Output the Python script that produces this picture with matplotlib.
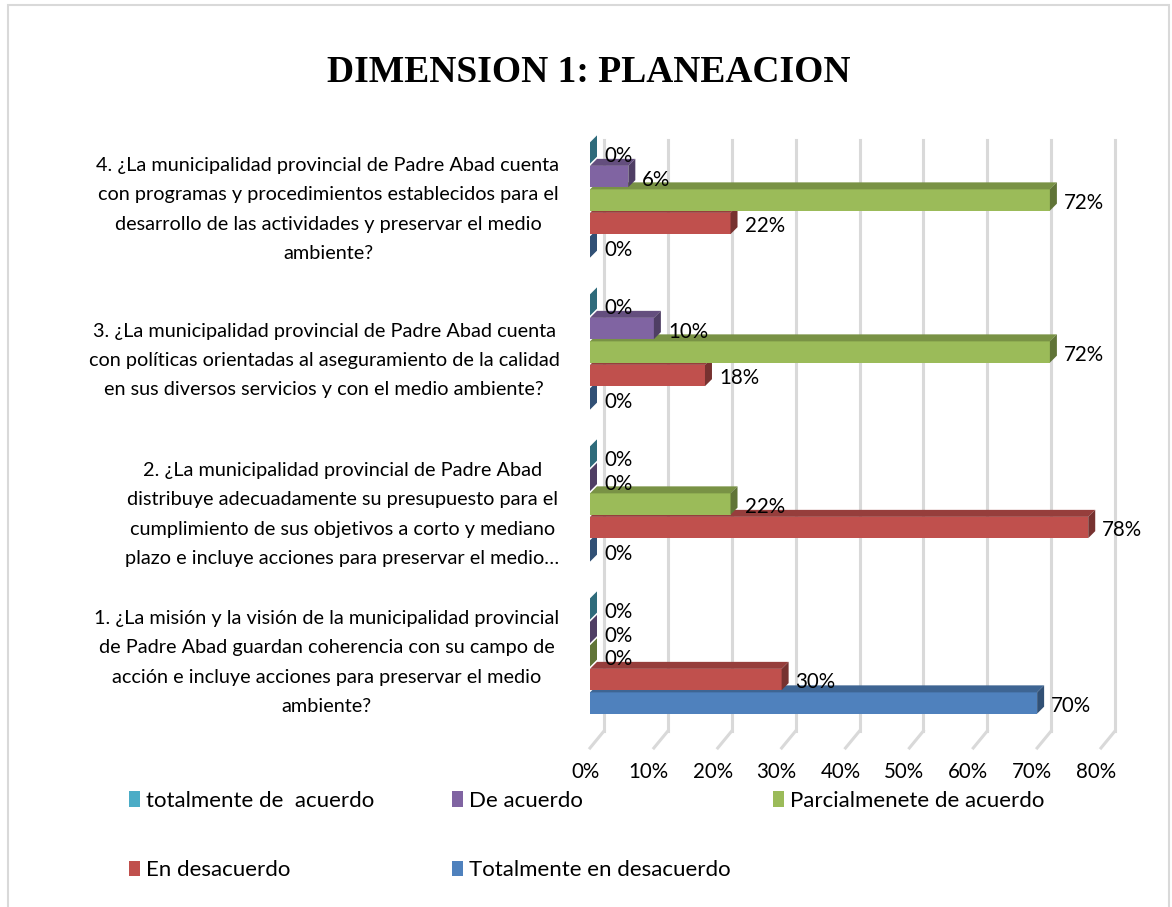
import numpy as np
import matplotlib.pyplot as plt
from matplotlib.patches import Polygon, Rectangle
from matplotlib.colors import to_rgb
from matplotlib import transforms

# --------- data (bottom group first) --------

preguntas = [
    '1. ¿La misión y la visión de la municipalidad provincial\n'
    'de Padre Abad guardan coherencia con su campo de\n'
    'acción e incluye acciones para preservar el medio\n'
    'ambiente?',
    '2. ¿La municipalidad provincial de Padre Abad\n'
    'distribuye adecuadamente su presupuesto para el\n'
    'cumplimiento de sus objetivos a corto y mediano\n'
    'plazo e incluye acciones para preservar el medio…',
    '3. ¿La municipalidad provincial de Padre Abad cuenta\n'
    'con políticas orientadas al aseguramiento de la calidad\n'
    'en sus diversos servicios y con el medio ambiente?',
    '4. ¿La municipalidad provincial de Padre Abad cuenta\n'
    'con programas y procedimientos establecidos para el\n'
    'desarrollo de las actividades y preservar el medio\n'
    'ambiente?',
]

series = ['totalmente de  acuerdo', 'De acuerdo', 'Parcialmenete de acuerdo',
          'En desacuerdo', 'Totalmente en desacuerdo']

tot_acuerdo = [0, 0, 0, 0]
de_acuerdo = [0, 0, 10, 6]
parcial = [0, 22, 72, 72]
desacuerdo = [30, 78, 18, 22]
tot_desacuerdo = [70, 0, 0, 0]

valores = [tot_acuerdo, de_acuerdo, parcial, desacuerdo, tot_desacuerdo]
colores = ['#4BACC6', '#8064A2', '#9BBB59', '#C0504D', '#4F81BD']

xticks = np.arange(0, 81, 10)

# --------- plot params --------

W, H = 1172, 907
fs = 14.3
fs_num = 14.8
fs_leg = 16
plt.rcParams['font.family'] = ['Lato', 'DejaVu Sans']

fig = plt.figure(figsize=(W / 100, H / 100), dpi=100)

# outer frame
fig.patches.append(Rectangle((8 / W, -0.01), 1161 / W, 1 - 5 / H + 0.01,
                             transform=fig.transFigure, fill=False,
                             edgecolor='#D9D9D9', lw=1.5))

ax_l, ax_r, ax_t, ax_b = 590, 1101, 157, 748
ax = fig.add_axes([ax_l / W, 1 - ax_b / H, (ax_r - ax_l) / W, (ax_b - ax_t) / H])

pitch = 0.1546
bh = 0.14
ylo = -(ax_b - 656) / 152
yhi = 3 + (200 - ax_t) / 152
ax.set_xlim(0, 80)
ax.set_ylim(ylo, yhi)

# pixel -> data for the bar depth
px_x = (ax_r - ax_l) / 80.0
px_y = (ax_b - ax_t) / (yhi - ylo)
depth = 7
ddx = depth / px_x
ddy = depth / px_y

# back wall gridlines + floor lines
back = transforms.ScaledTranslation(14 / 100, 17 / 100, fig.dpi_scale_trans)
for k in xticks:
    ax.plot([k, k], [0, 1], transform=ax.get_xaxis_transform() + back,
            color='#D9D9D9', lw=2.2, zorder=1, clip_on=False)
    ax.plot([k, k + 14 / px_x], [ylo, ylo + 17 / px_y], color='#D9D9D9',
            lw=2.2, zorder=1, clip_on=False)


def darker(c, f):
    return tuple(np.array(to_rgb(c)) * f)


lab_tr = transforms.offset_copy(ax.transData, fig=fig, x=14, y=-3, units='dots')

for j in range(len(preguntas)):
    for i in range(len(series)):
        v = valores[i][j]
        yc = j + (2 - i) * pitch
        yb, yt = yc - bh / 2, yc + bh / 2
        z = 10 + j * 10 + (5 - i)
        col = colores[i]
        ax.add_patch(Rectangle((0, yb), v, bh, facecolor=col, edgecolor='none',
                               zorder=z, clip_on=False))
        ax.add_patch(Polygon([(0, yt), (v, yt), (v + ddx, yt + ddy), (ddx, yt + ddy)],
                             facecolor=darker(col, 0.78), edgecolor='none',
                             zorder=z, clip_on=False))
        ax.add_patch(Polygon([(v, yb), (v, yt), (v + ddx, yt + ddy), (v + ddx, yb + ddy)],
                             facecolor=darker(col, 0.62), edgecolor='none',
                             zorder=z, clip_on=False))
        ax.text(v, yc, f'{v}%', transform=lab_tr, ha='left', va='center',
                fontsize=fs_num, zorder=100)

for s in ax.spines.values():
    s.set_visible(False)

ax.set_xticks(xticks, [f'{k}%' for k in xticks])
ax.tick_params(axis='x', length=0, pad=10, labelsize=fs_num)
shift = transforms.ScaledTranslation(-5 / 100, 0, fig.dpi_scale_trans)
for lbl in ax.get_xticklabels():
    lbl.set_transform(lbl.get_transform() + shift)

ax.set_yticks(range(len(preguntas)))
ax.set_yticklabels(preguntas, multialignment='center', linespacing=1.87)
ax.tick_params(axis='y', length=0, pad=22, labelsize=fs)
for lbl, dy in zip(ax.get_yticklabels(), [1, -3, -1, -2]):
    lbl.set_transform(lbl.get_transform() +
                      transforms.ScaledTranslation(0, dy / 100, fig.dpi_scale_trans))

fig.text(589 / W, 1 - 73 / H, 'DIMENSION 1: PLANEACION', ha='center', va='center',
         fontsize=27, fontweight='bold', family='Liberation Serif')

# legend, three columns placed by hand
handles = [Rectangle((0, 0), 1, 1, facecolor=c, edgecolor='none') for c in colores]
cols = [([0, 3], 129), ([1, 4], 452), ([2], 773)]
for idx, xpos in cols:
    leg = fig.legend([handles[k] for k in idx], [series[k] for k in idx],
                     loc='upper left', bbox_to_anchor=(xpos / W, 1 - 791 / H),
                     frameon=False, fontsize=fs_leg, borderpad=0, borderaxespad=0,
                     handlelength=0.5, handleheight=0.7, handletextpad=0.25,
                     labelspacing=2.22)

fig.savefig('out.png', dpi=100)
